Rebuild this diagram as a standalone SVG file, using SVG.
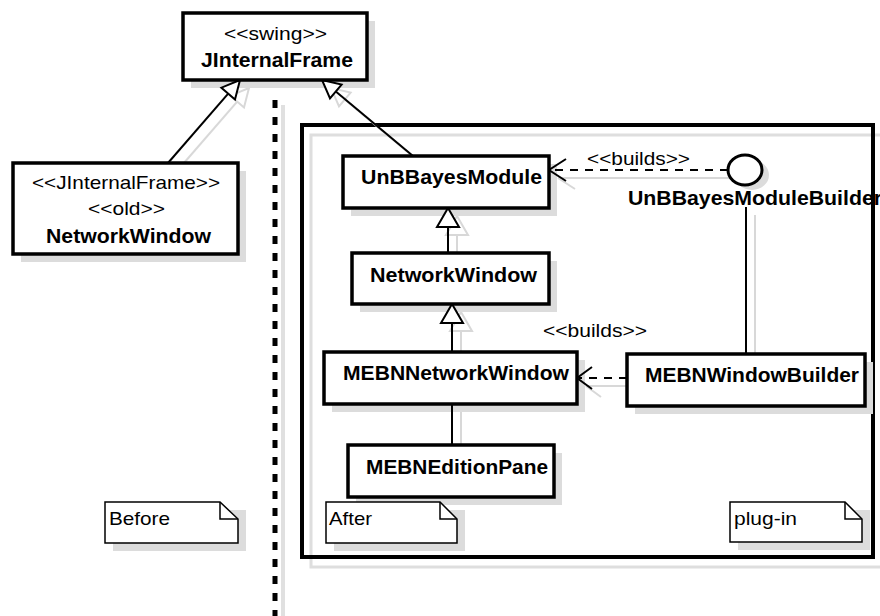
<svg xmlns="http://www.w3.org/2000/svg" width="880" height="616" viewBox="0 0 880 616">
<style>
.box{fill:#fff;stroke:#000;stroke-width:3.5}
.sh{fill:#dcdcdc;stroke:none}
.note{fill:#fff;stroke:#000;stroke-width:1.5}
.fold{fill:none;stroke:#000;stroke-width:1.5}
.n{font-family:"Liberation Sans",Arial,sans-serif;font-size:20px;font-weight:bold;fill:#000}
.r{font-family:"Liberation Sans",Arial,sans-serif;font-size:19px;fill:#000}
.ln{fill:none;stroke:#000;stroke-width:2}
.dash{fill:none;stroke:#000;stroke-width:2;stroke-dasharray:8 7}
.tri{fill:#fff;stroke:#000;stroke-width:2;stroke-linejoin:miter}
.gl{fill:none;stroke:#d8d8d8;stroke-width:2}
.gt{fill:none;stroke:#d8d8d8;stroke-width:2}
</style>
<rect width="880" height="616" fill="#fff"/>

<!-- separator -->
<g id="separator">
<line x1="283" y1="105" x2="283" y2="616" stroke="#e0e0e0" stroke-width="4"/>
<line x1="275" y1="100" x2="275" y2="616" stroke="#000" stroke-width="5" stroke-dasharray="8 9"/>
</g>

<!-- plug-in frame -->
<g id="plugin-frame">
<rect x="311" y="135" width="571" height="432" fill="none" stroke="#dedede" stroke-width="3"/>
<rect x="302" y="125" width="571" height="432" fill="none" stroke="#000" stroke-width="4"/>
</g>

<!-- connector shadows -->
<g id="connector-shadows" transform="translate(9,8)">
<line class="gl" x1="168" y1="163" x2="228.2" y2="93.6"/>
<polygon class="gt" points="240,80 235,99.5 221.4,87.7"/>
<line class="gl" x1="413" y1="156" x2="335.8" y2="91.5"/>
<polygon class="gt" points="322,80 341.6,84.6 330,98.4"/>
<line class="gl" x1="448" y1="227" x2="448" y2="253"/>
<polygon class="gt" points="448,208 437,227 459,227"/>
<line class="gl" x1="452" y1="323" x2="452" y2="352"/>
<polygon class="gt" points="452,304 441,323 463,323"/>
<line class="gl" x1="452" y1="404" x2="452" y2="445"/>
<line class="gl" x1="728" y1="170" x2="549" y2="170"/>
<polyline class="gl" points="566,181 549,170"/>
<line class="gl" x1="746" y1="207" x2="746" y2="354"/>
<line class="gl" x1="627" y1="378" x2="577" y2="378"/>
<polyline class="gl" points="592,389 577,378"/>
</g>

<!-- node shadows -->
<g id="shadows">
<rect class="sh" x="191" y="21" width="184" height="67"/>
<rect class="sh" x="21" y="171" width="225" height="91"/>
<rect class="sh" x="351" y="164" width="206" height="52"/>
<rect class="sh" x="360" y="261" width="197" height="51"/>
<rect class="sh" x="332" y="360" width="253" height="52"/>
<rect class="sh" x="356" y="453" width="206" height="52"/>
<rect class="sh" x="635" y="362" width="238" height="52"/>
<ellipse class="sh" cx="752" cy="175" rx="17" ry="15"/>
<rect class="sh" x="113" y="510" width="133" height="41"/>
<rect class="sh" x="334" y="510" width="131" height="41"/>
<rect class="sh" x="738" y="510" width="132" height="40"/>
</g>

<!-- connectors -->
<g id="connectors">
<line class="ln" x1="168" y1="163" x2="228.2" y2="93.6"/>
<polygon class="tri" points="240,80 235,99.5 221.4,87.7"/>
<line class="ln" x1="413" y1="156" x2="335.8" y2="91.5"/>
<polygon class="tri" points="322,80 341.6,84.6 330,98.4"/>
<line class="ln" x1="448" y1="227" x2="448" y2="253"/>
<polygon class="tri" points="448,208 437,227 459,227"/>
<line class="ln" x1="452" y1="323" x2="452" y2="352"/>
<polygon class="tri" points="452,304 441,323 463,323"/>
<line class="ln" x1="452" y1="404" x2="452" y2="445"/>
<line class="dash" x1="728" y1="170" x2="551" y2="170"/>
<polyline class="ln" points="566,159 549,170 566,181"/>
<line class="ln" x1="746" y1="207" x2="746" y2="354"/>
<line class="dash" x1="627" y1="378" x2="579" y2="378"/>
<polyline class="ln" points="592,367 577,378 592,389"/>
<text class="r" x="587" y="165" textLength="103" lengthAdjust="spacingAndGlyphs">&lt;&lt;builds&gt;&gt;</text>
<text class="r" x="543" y="337" textLength="104" lengthAdjust="spacingAndGlyphs">&lt;&lt;builds&gt;&gt;</text>
</g>

<g id="JInternalFrame">
<rect class="box" x="183" y="13" width="184" height="67"/>
<text class="r" x="275.5" y="40" text-anchor="middle" textLength="103" lengthAdjust="spacingAndGlyphs">&lt;&lt;swing&gt;&gt;</text>
<text class="n" x="277" y="67" text-anchor="middle" textLength="152" lengthAdjust="spacingAndGlyphs">JInternalFrame</text>
</g>

<g id="NetworkWindowOld">
<rect class="box" x="13" y="163" width="225" height="91"/>
<text class="r" x="126" y="189" text-anchor="middle" textLength="188" lengthAdjust="spacingAndGlyphs">&lt;&lt;JInternalFrame&gt;&gt;</text>
<text class="r" x="126.5" y="215" text-anchor="middle" textLength="77" lengthAdjust="spacingAndGlyphs">&lt;&lt;old&gt;&gt;</text>
<text class="n" x="128.5" y="243" text-anchor="middle" textLength="165" lengthAdjust="spacingAndGlyphs">NetworkWindow</text>
</g>

<g id="UnBBayesModule">
<rect class="box" x="343" y="156" width="206" height="52"/>
<text class="n" x="451.5" y="184" text-anchor="middle" textLength="181" lengthAdjust="spacingAndGlyphs">UnBBayesModule</text>
</g>

<g id="NetworkWindow">
<rect class="box" x="352" y="253" width="197" height="51"/>
<text class="n" x="453.5" y="282" text-anchor="middle" textLength="167" lengthAdjust="spacingAndGlyphs">NetworkWindow</text>
</g>

<g id="MEBNNetworkWindow">
<rect class="box" x="324" y="352" width="253" height="52"/>
<text class="n" x="456" y="380" text-anchor="middle" textLength="226" lengthAdjust="spacingAndGlyphs">MEBNNetworkWindow</text>
</g>

<g id="MEBNEditionPane">
<rect class="box" x="348" y="445" width="206" height="52"/>
<text class="n" x="457" y="474" text-anchor="middle" textLength="182" lengthAdjust="spacingAndGlyphs">MEBNEditionPane</text>
</g>

<g id="MEBNWindowBuilder">
<rect class="box" x="627" y="354" width="238" height="52"/>
<text class="n" x="752" y="382" text-anchor="middle" textLength="214" lengthAdjust="spacingAndGlyphs">MEBNWindowBuilder</text>
</g>

<g id="UnBBayesModuleBuilder">
<ellipse cx="745" cy="170" rx="17" ry="15" fill="#fff" stroke="#000" stroke-width="3"/>
<text class="n" x="628" y="205" textLength="254" lengthAdjust="spacingAndGlyphs">UnBBayesModuleBuilder</text>
</g>

<g id="note-before">
<path class="note" d="M105,502 H220 L238,519 V543 H105 Z"/>
<path class="fold" d="M220,502 V519 H238"/>
<text class="r" x="109" y="525" textLength="61" lengthAdjust="spacingAndGlyphs">Before</text>
</g>

<g id="note-after">
<path class="note" d="M326,502 H440 L457,519 V543 H326 Z"/>
<path class="fold" d="M440,502 V519 H457"/>
<text class="r" x="329" y="525" textLength="43" lengthAdjust="spacingAndGlyphs">After</text>
</g>

<g id="note-plugin">
<path class="note" d="M730,502 H845 L862,519 V542 H730 Z"/>
<path class="fold" d="M845,502 V519 H862"/>
<text class="r" x="734" y="525" textLength="63" lengthAdjust="spacingAndGlyphs">plug-in</text>
</g>
</svg>
